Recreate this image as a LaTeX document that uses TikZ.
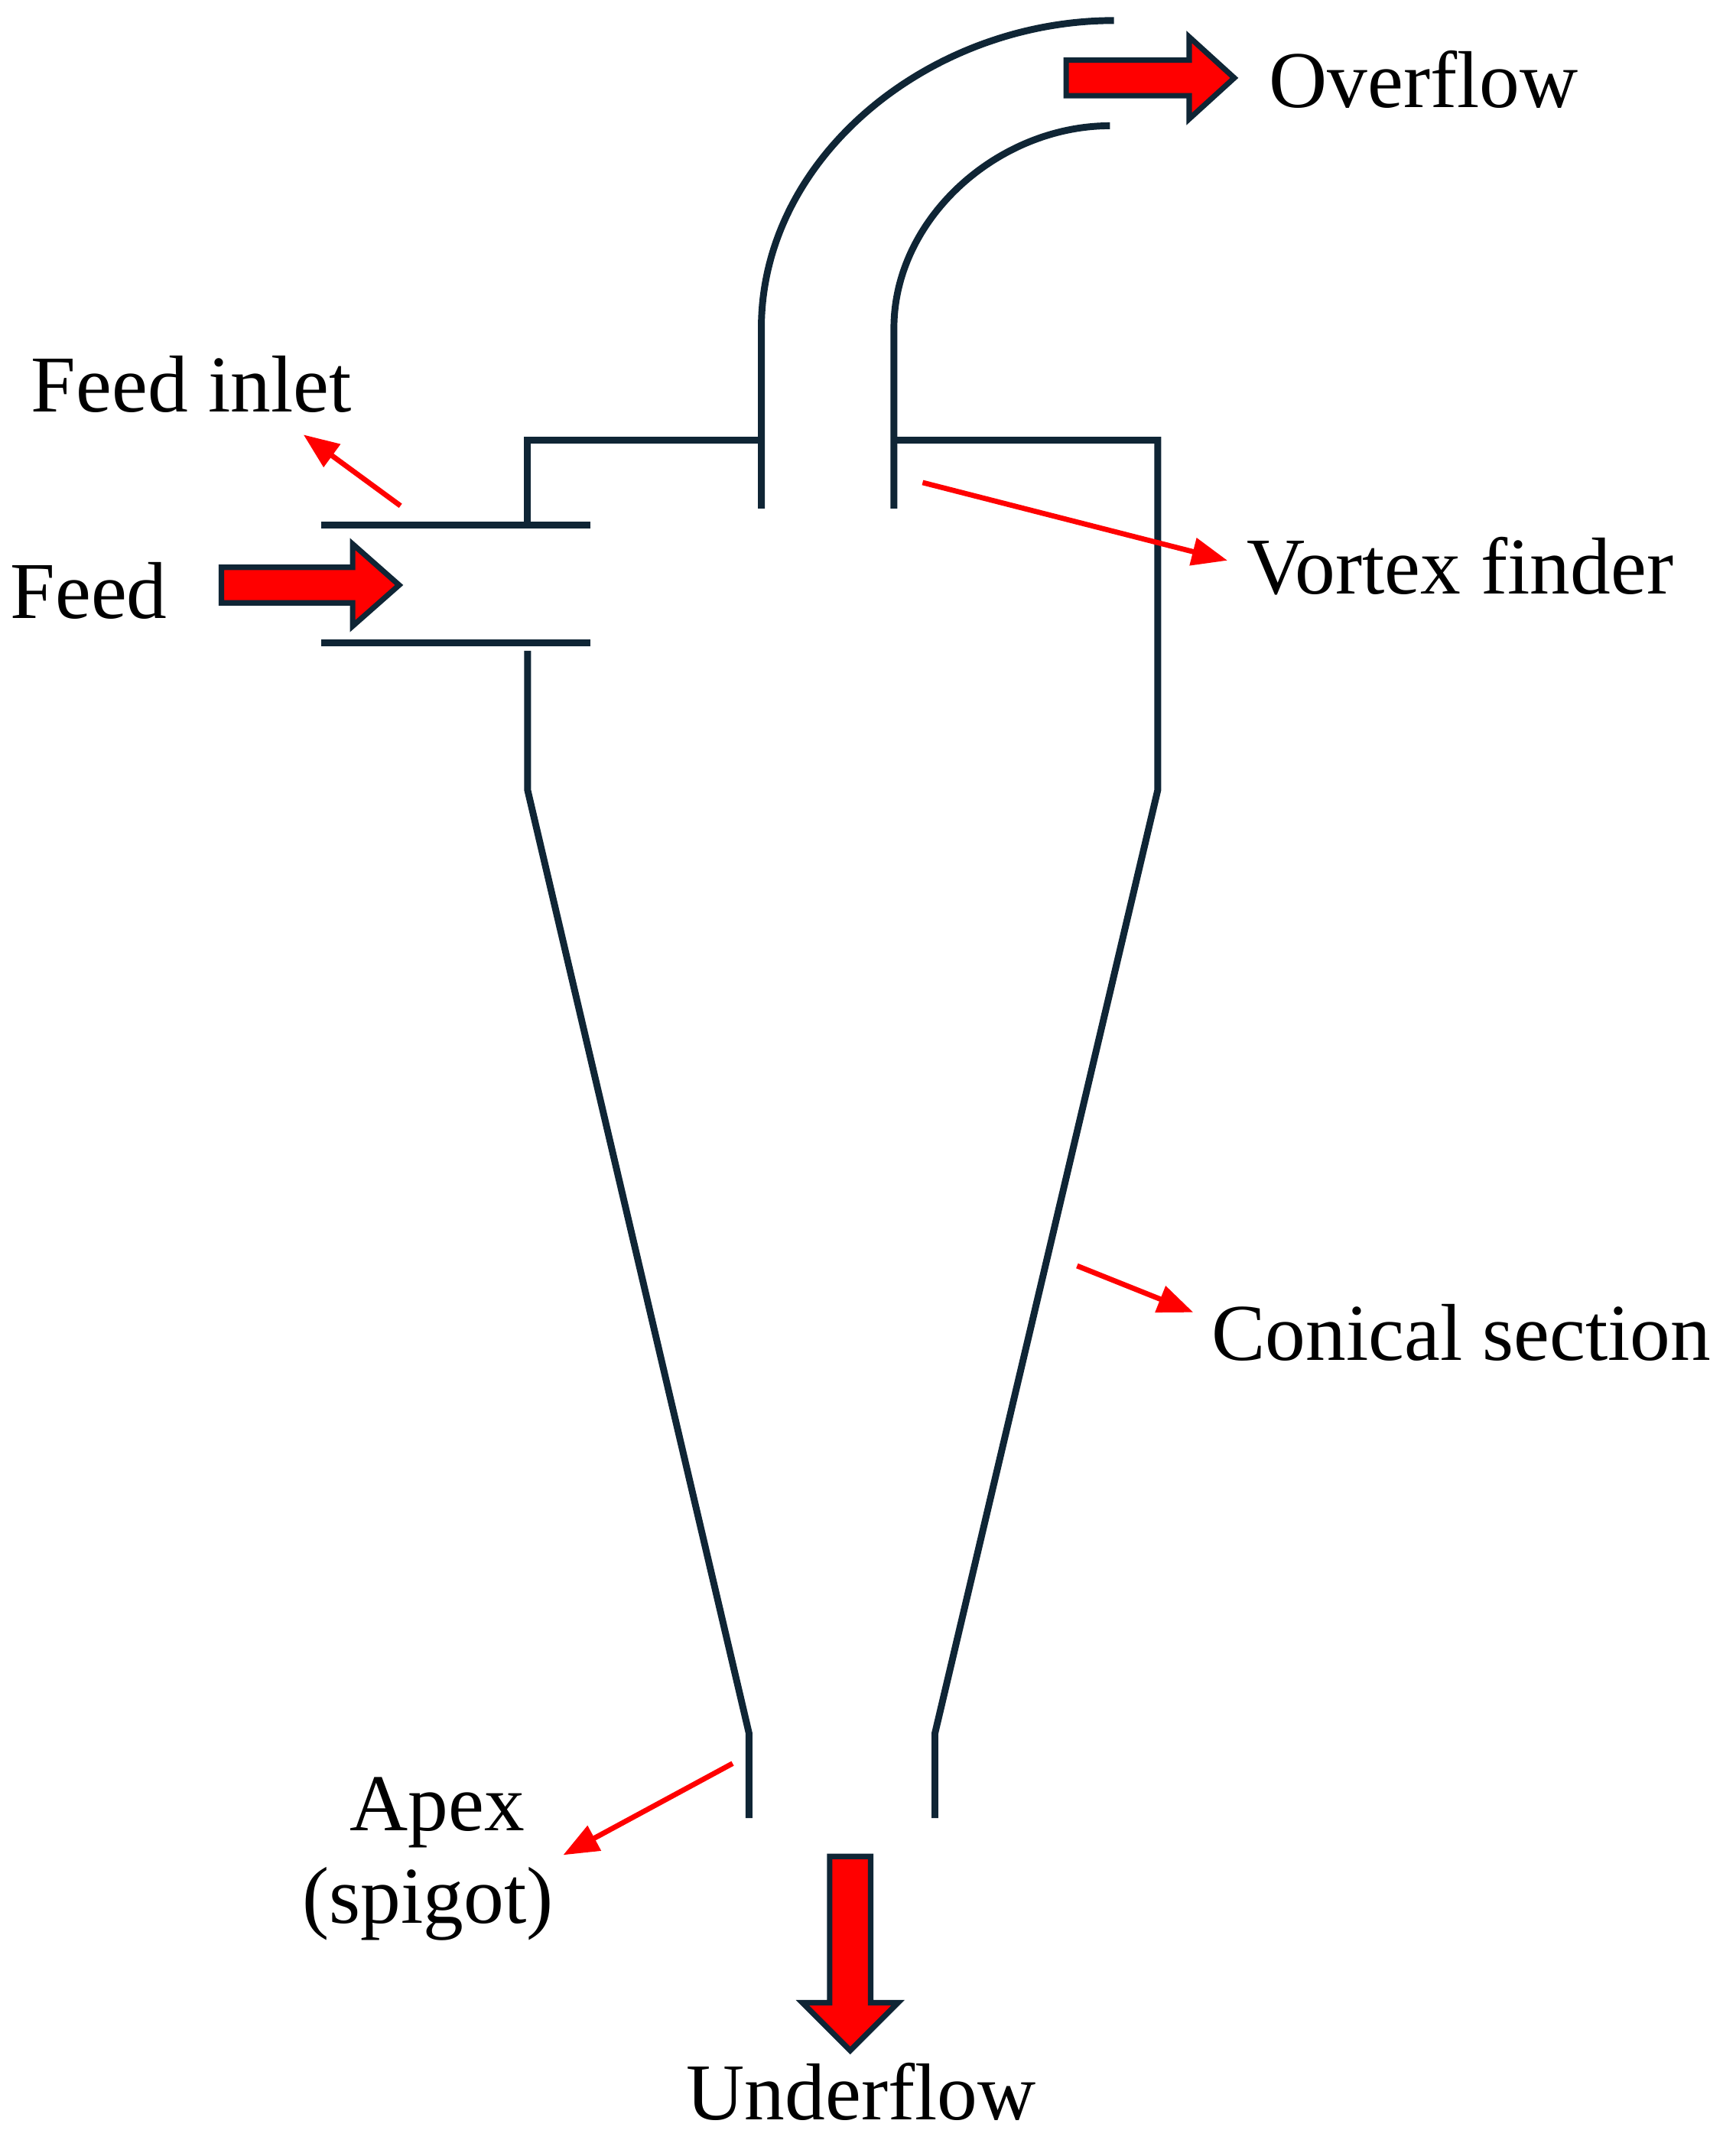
\documentclass[tikz,border=0pt]{standalone}
\usepackage{fontspec}
\setmainfont{Liberation Serif}
\usetikzlibrary{arrows.meta}
\begin{document}
\begin{tikzpicture}[x=0.5pt,y=-0.5pt,
  wall/.style={draw=wallc,line width=2.5pt},
  blk/.style={fill=red,draw=wallc,line width=2pt,line join=miter},
  lab/.style={font=\fontsize{29.5}{33}\selectfont,inner sep=0pt},
  ptr/.style={draw=red,line width=1.9pt,-{Triangle[length=13pt,width=10pt]}}]
\definecolor{wallc}{HTML}{0F2535}
\useasboundingbox (0,0) rectangle (1270,1575);
% body
\draw[wall] (386,384) -- (386,322) -- (557,322);
\draw[wall] (654,322) -- (847,322) -- (847,578) -- (684,1268) -- (684,1330);
\draw[wall] (386,476) -- (386,578) -- (548,1268) -- (548,1330);
\draw[wall] (235,384) -- (432,384);
\draw[wall] (235,470) -- (432,470);
% vortex finder
\draw[wall] (557,372) -- (557,240) .. controls (557,115) and (680,15) .. (815,15);
\draw[wall] (654,372) -- (654,240) .. controls (654,160) and (730,92) .. (812,92);
% block arrows
\path[blk] (780,44) -- (870,44) -- (870,27) -- (903,57) -- (870,87) -- (870,70) -- (780,70) -- cycle;
\path[blk] (162,415) -- (258,415) -- (258,398) -- (292,428) -- (258,458) -- (258,441) -- (162,441) -- cycle;
\path[blk] (607,1358) -- (637,1358) -- (637,1465) -- (657,1465) -- (622,1500) -- (587,1465) -- (607,1465) -- cycle;
% labels
\node[lab,anchor=west] (ov) at (928,58) {Overflow};
\node[lab] (fi) at (140,281) {Feed inlet};
\node[lab] (fd) at (65,432) {Feed};
\node[lab,anchor=west] (vf) at (912,414) {Vortex finder};
\node[lab,anchor=west] (cs) at (886,975) {Conical section};
\node[lab] (ap) at (320,1326) {Apex};
\node[lab] (sp) at (313,1393) {(spigot)};
\node[lab] (uf) at (630,1530) {Underflow};
% pointers
\coordinate (p1) at (293,370); \coordinate (q1) at (222,318);
\coordinate (p2) at (675,353); \coordinate (q2) at (898,410);
\coordinate (p3) at (788,926); \coordinate (q3) at (873,960);
\coordinate (p4) at (536,1290); \coordinate (q4) at (412,1357);
\draw[ptr] (p1) -- (q1);
\draw[ptr] (p2) -- (q2);
\draw[ptr] (p3) -- (q3);
\draw[ptr] (p4) -- (q4);
\end{tikzpicture}
\end{document}
